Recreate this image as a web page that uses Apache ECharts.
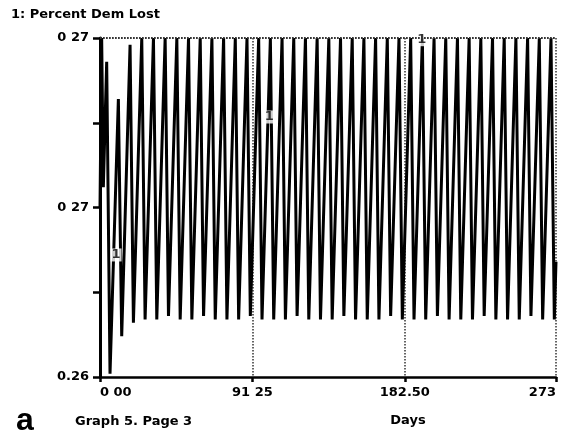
<!DOCTYPE html>
<html>
<head>
<meta charset="utf-8">
<script src="https://cdn.jsdelivr.net/npm/echarts@6/dist/echarts.min.js"></script>
<style>
  html, body { margin: 0; padding: 0; background: #fff; }
  #chart { width: 563px; height: 435px; }
</style>
</head>
<body>
<div id="chart"></div>
<script>
// turning points of the curve (day, value)
const days = [
  0, 1, 2, 4, 6, 11, 13, 18, 20, 25, 27, 32, 34, 39, 41, 46, 48, 53, 55, 60, 62,
  67, 69, 74, 76, 81, 83, 88, 90, 95, 97, 102, 104, 109, 111, 116, 118, 123, 125,
  130, 132, 137, 139, 144, 146, 151, 153, 158, 160, 165, 167, 172, 174, 179, 181,
  186, 188, 193, 195, 200, 202, 207, 209, 214, 216, 221, 223, 228, 230, 235, 237,
  242, 244, 249, 251, 256, 258, 263, 265, 270, 272, 273
]
const pctDemLost = [
  0.2650, 0.2700, 0.2656, 0.2693, 0.2601, 0.2682, 0.2612, 0.2698, 0.2616, 0.2700, 0.2617,
  0.2700, 0.2617, 0.2700, 0.2618, 0.2700, 0.2617, 0.2700, 0.2617, 0.2700, 0.2618,
  0.2700, 0.2617, 0.2700, 0.2617, 0.2700, 0.2617, 0.2700, 0.2618, 0.2700, 0.2617,
  0.2700, 0.2617, 0.2700, 0.2617, 0.2700, 0.2618, 0.2700, 0.2617,
  0.2700, 0.2617, 0.2700, 0.2617, 0.2700, 0.2618, 0.2700, 0.2617, 0.2700, 0.2617,
  0.2700, 0.2617, 0.2700, 0.2618, 0.2700, 0.2617,
  0.2700, 0.2617, 0.2700, 0.2617, 0.2700, 0.2618, 0.2700, 0.2617, 0.2700, 0.2617,
  0.2700, 0.2617, 0.2700, 0.2618, 0.2700, 0.2617,
  0.2700, 0.2617, 0.2700, 0.2617, 0.2700, 0.2618, 0.2700, 0.2617, 0.2700, 0.2617, 0.2634
]
// curve number markers drawn on the line
const markerPts = [[9.6, 0.2636], [101.4, 0.26767], [192.6, 0.26995]]
// axis labels as printed
const xTickLabels = { '0': '0 00', '91.25': '91 25', '182.5': '182.50', '273': '273' }
const yTickLabels = ['0.26', '0 27', '0 27']
const gridLevels = [0.265, 0.2675, 0.27]

const font = 'DejaVu Sans'
const chart = echarts.init(document.getElementById('chart'))

chart.setOption({
  backgroundColor: '#fff',
  animation: false,
  title: {
    text: '1: Percent Dem Lost',
    left: 11,
    top: 8,
    padding: 0,
    textStyle: { fontFamily: font, fontSize: 13, fontWeight: 'bold', color: '#000' }
  },
  grid: { left: 100, right: 7, top: 38, bottom: 58 },
  xAxis: {
    type: 'value',
    min: 0,
    max: 273,
    interval: 91.25,
    axisLine: { lineStyle: { color: '#000', width: 2.5 } },
    axisTick: { length: 5, lineStyle: { color: '#000', width: 2.5 } },
    axisLabel: {
      margin: 9,
      fontFamily: font,
      fontSize: 13,
      fontWeight: 'bold',
      color: '#000',
      alignMinLabel: 'left',
      alignMaxLabel: 'right',
      formatter: v => xTickLabels[String(Math.round(v * 100) / 100)] || ''
    },
    splitLine: { show: true, lineStyle: { color: '#333', type: 'dotted', width: 1.5 } }
  },
  yAxis: {
    type: 'value',
    min: 0.26,
    max: 0.27,
    interval: 0.0025,
    axisLine: { show: true, lineStyle: { color: '#000', width: 3 } },
    axisTick: { show: true, length: 7, lineStyle: { color: '#000', width: 2.5 } },
    axisLabel: {
      margin: 11,
      fontFamily: font,
      fontSize: 13,
      fontWeight: 'bold',
      color: '#000',
      formatter: v => {
        const i = Math.round((v - 0.26) / 0.005 * 1000) / 1000
        return Number.isInteger(i) ? yTickLabels[i] : ''
      }
    },
    splitLine: { show: false }
  },
  series: [
    {
      type: 'line',
      data: [],
      z: 1,
      silent: true,
      markLine: {
        silent: true,
        symbol: 'none',
        label: { show: false },
        lineStyle: { color: '#333', type: 'dotted', width: 1.5 },
        data: gridLevels.map(v => ({ yAxis: v }))
      }
    },
    {
      name: 'Percent Dem Lost',
      type: 'line',
      z: 2,
      showSymbol: false,
      lineStyle: { color: '#000', width: 3 },
      data: days.map((d, i) => [d, pctDemLost[i]])
    },
    {
      type: 'scatter',
      z: 3,
      symbolSize: 0,
      label: {
        show: true,
        position: 'inside',
        formatter: '1',
        fontFamily: font,
        fontSize: 13,
        fontWeight: 'bold',
        color: '#000',
        backgroundColor: '#fff',
        padding: [0, 1]
      },
      data: markerPts
    }
  ],
  graphic: [
    {
      type: 'text', x: 25, y: 421,
      style: { text: 'a', font: 'bold 32px "Liberation Sans"', fill: '#000', textAlign: 'center', textVerticalAlign: 'middle' }
    },
    {
      type: 'text', x: 75, y: 422,
      style: { text: 'Graph 5. Page 3', font: 'bold 13px "DejaVu Sans"', fill: '#000', textAlign: 'left', textVerticalAlign: 'middle' }
    },
    {
      type: 'text', x: 408, y: 421,
      style: { text: 'Days', font: 'bold 13px "DejaVu Sans"', fill: '#000', textAlign: 'center', textVerticalAlign: 'middle' }
    }
  ]
})
</script>
</body>
</html>
